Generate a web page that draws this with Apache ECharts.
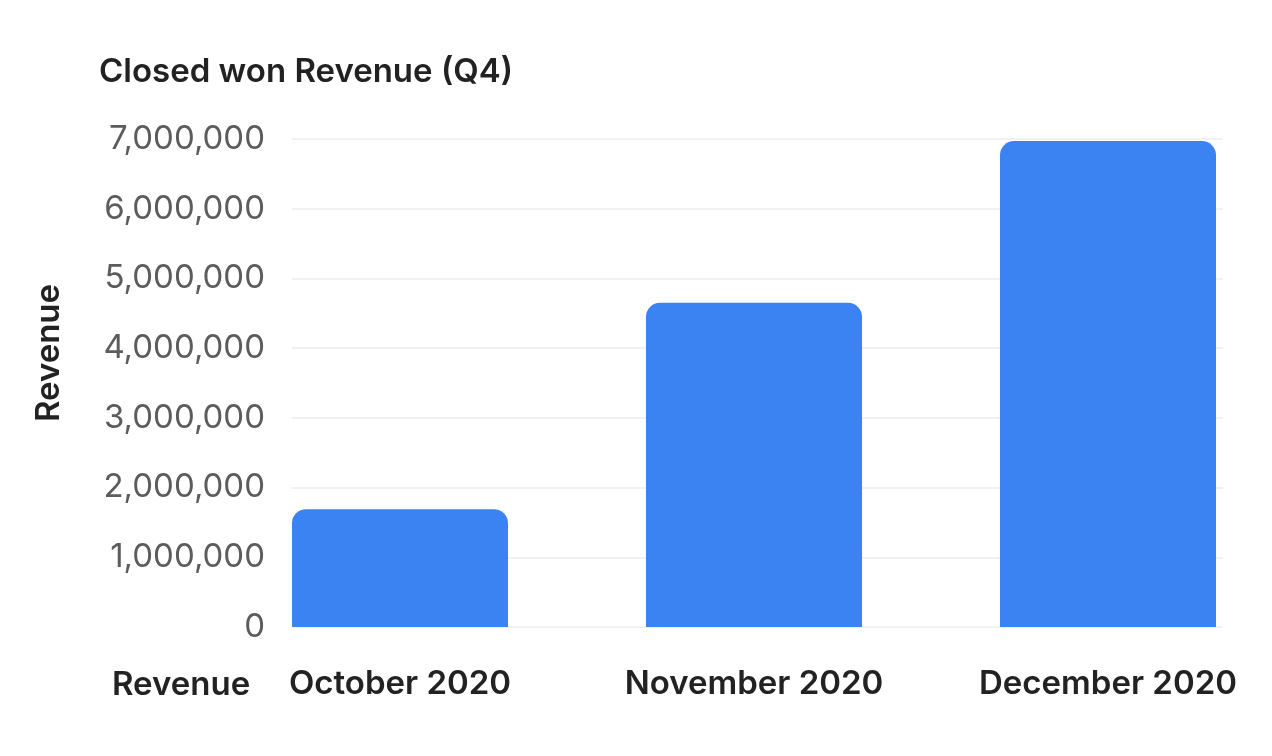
<!DOCTYPE html>
<html>
<head>
<meta charset="utf-8">
<script src="https://cdn.jsdelivr.net/npm/echarts@6/dist/echarts.min.js"></script>
<style>
html,body{margin:0;padding:0;background:#fff;}
#chart{width:1272px;height:756px;}
</style>
</head>
<body>
<div id="chart"></div>
<script>
const titleText = 'Closed won Revenue (Q4)';
const categories = ['October 2020', 'November 2020', 'December 2020'];
const revenue = [1690000, 4650000, 6970000];
const seriesName = 'Revenue';
const yMin = 0, yMax = 7000000, yInterval = 1000000;

const FONT = 'Inter, "Noto Sans", sans-serif';
const chart = echarts.init(document.getElementById('chart'), null, {renderer: 'canvas'});
const gridTop = 139, gridBottom = 129;

chart.setOption({
  backgroundColor: '#ffffff',
  animation: false,
  title: [
    {text: titleText, left: 94, top: 51,
     textStyle: {fontFamily: FONT, fontSize: 33, fontWeight: 600, color: '#222222'}},
    {text: seriesName, left: 107, top: 664,
     textStyle: {fontFamily: FONT, fontSize: 33, fontWeight: 600, color: '#222222'}}
  ],
  grid: [
    {left: 223, top: gridTop, bottom: gridBottom, width: 1062, outerBoundsMode: 'none', containLabel: false},
    {left: 292, right: 49, top: gridTop, bottom: gridBottom, outerBoundsMode: 'none', containLabel: false}
  ],
  xAxis: [
    {type: 'category', gridIndex: 0, data: categories,
     axisLine: {show: false}, axisTick: {show: false},
     axisLabel: {margin: 41, fontFamily: FONT, fontSize: 33, fontWeight: 600, color: '#222222'}},
    {type: 'category', gridIndex: 1, data: categories, show: false}
  ],
  yAxis: [
    {type: 'value', gridIndex: 0, min: yMin, max: yMax, interval: yInterval, show: false,
     splitLine: {show: false}},
    {type: 'value', gridIndex: 1, min: yMin, max: yMax, interval: yInterval,
     name: seriesName, nameLocation: 'middle', nameGap: 226, nameRotate: 90,
     nameTextStyle: {fontFamily: FONT, fontSize: 33, fontWeight: 600, color: '#222222',
       padding: [0, 0, 0, 60]},
     axisLine: {show: false}, axisTick: {show: false},
     axisLabel: {margin: 27, fontFamily: FONT, fontSize: 33, color: '#5c5c5c',
       formatter: v => v.toLocaleString('en-US')},
     splitLine: {lineStyle: {color: '#ececec', width: 1.5}}}
  ],
  series: [
    {type: 'bar', name: seriesName, xAxisIndex: 0, yAxisIndex: 0,
     data: revenue, barWidth: 216,
     itemStyle: {color: '#3b82f3', borderRadius: [14, 14, 0, 0]}}
  ]
});
</script>
</body>
</html>
